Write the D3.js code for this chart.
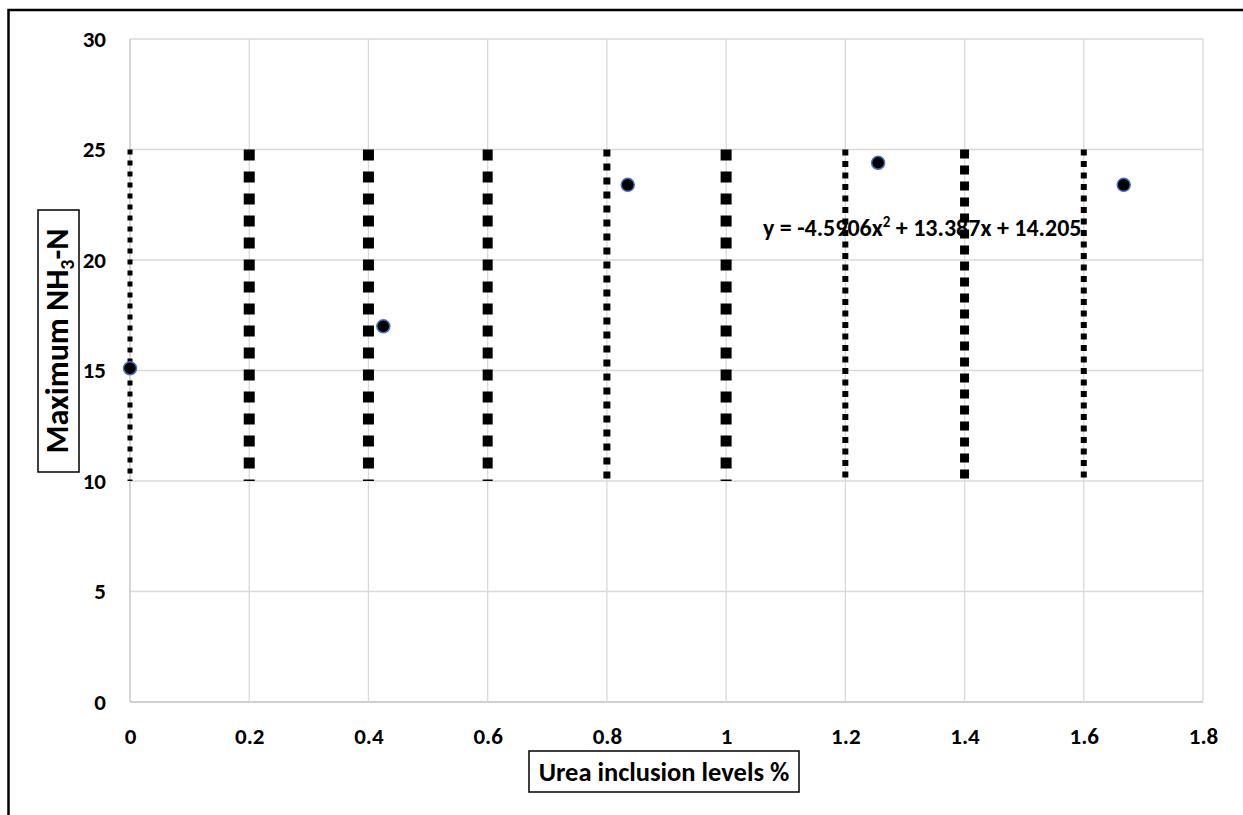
<!DOCTYPE html>
<html>
<head>
<meta charset="utf-8">
<script src="https://cdn.jsdelivr.net/npm/d3@7"></script>
<style>
  body { margin: 0; background: #fff; }
  svg { display: block; }
  text { font-family: Carlito, Calibri, Lato, "Open Sans", sans-serif; font-weight: bold; fill: #000; }
</style>
</head>
<body>
<div id="vis1"></div>
<script>
// chart data
const xTicks = [0, 0.2, 0.4, 0.6, 0.8, 1, 1.2, 1.4, 1.6, 1.8];
const yTicks = [0, 5, 10, 15, 20, 25, 30];
const urea = [0, 0.425, 0.835, 1.255, 1.667];
const nh3 = [15.1, 17.0, 23.4, 24.4, 23.4];
const barLevels = [0, 0.2, 0.4, 0.6, 0.8, 1, 1.2, 1.4, 1.6];
const barLow = 10;
const barHigh = 25;
const equation = ["y = -4.5906x", "2", " + 13.387x + 14.205"];

// dotted line look, one per level
const barStyles = [
  {w: 5, dash: "5 6"},
  {w: 11, dash: "11 11"},
  {w: 11, dash: "11 11"},
  {w: 10, dash: "11 11"},
  {w: 7, dash: "7 7"},
  {w: 11, dash: "11 11"},
  {w: 6, dash: "6 5.5"},
  {w: 9, dash: "9 7"},
  {w: 6, dash: "6 5.5"}
];

const FRAME_WIDTH = 1243;
const FRAME_HEIGHT = 815;
const MARGINS = {left: 130, right: 40, top: 39, bottom: 113};

const svg = d3.select("#vis1")
  .append("svg")
    .attr("width", FRAME_WIDTH)
    .attr("height", FRAME_HEIGHT);

// outer frame
svg.append("rect")
  .attr("x", 8.5).attr("y", 10)
  .attr("width", 1300).attr("height", 900)
  .attr("fill", "none")
  .attr("stroke", "#000")
  .attr("stroke-width", 2.5);

const x = d3.scaleLinear()
  .domain([0, 1.8])
  .range([MARGINS.left, FRAME_WIDTH - MARGINS.right]);

const y = d3.scaleLinear()
  .domain([0, 30])
  .range([FRAME_HEIGHT - MARGINS.bottom, MARGINS.top]);

// gridlines
svg.append("g")
  .selectAll("line.hgrid")
  .data(yTicks)
  .enter()
  .append("line")
    .attr("x1", x(0)).attr("x2", x(1.8))
    .attr("y1", d => y(d)).attr("y2", d => y(d))
    .attr("stroke", d => d === 0 ? "#bfbfbf" : "#d9d9d9")
    .attr("stroke-width", 1.3);

svg.append("g")
  .selectAll("line.vgrid")
  .data(xTicks)
  .enter()
  .append("line")
    .attr("x1", d => x(d)).attr("x2", d => x(d))
    .attr("y1", y(0)).attr("y2", y(30))
    .attr("stroke", d => d === 0 ? "#bfbfbf" : "#d9d9d9")
    .attr("stroke-width", 1.3);

// axes (labels only, lines come from grid)
const yAxis = svg.append("g")
  .attr("transform", `translate(${x(0)},0)`)
  .call(d3.axisLeft(y).tickValues(yTicks).tickSize(0).tickPadding(24));
yAxis.select(".domain").remove();
yAxis.selectAll("text").style("font-size", "23px").attr("font-family", null);

const xAxis = svg.append("g")
  .attr("transform", `translate(0,${y(0)})`)
  .call(d3.axisBottom(x).tickValues(xTicks).tickSize(0).tickPadding(26)
    .tickFormat(d => d3.format("")(+d.toFixed(1))));
xAxis.select(".domain").remove();
xAxis.selectAll("text").style("font-size", "23px").attr("font-family", null);

// equation (under the dotted lines)
const eq = svg.append("text")
  .attr("x", 763).attr("y", 236)
  .style("font-size", "24px");
eq.append("tspan").text(equation[0]);
eq.append("tspan").attr("dy", -9).style("font-size", "15px").text(equation[1]);
eq.append("tspan").attr("dy", 9).text(equation[2]);

// dotted lines
svg.append("g")
  .selectAll("line.bar")
  .data(barLevels)
  .enter()
  .append("line")
    .attr("x1", d => x(d)).attr("x2", d => x(d))
    .attr("y1", y(barHigh)).attr("y2", y(barLow))
    .attr("stroke", "#000")
    .attr("stroke-width", (d, i) => barStyles[i].w)
    .attr("stroke-dasharray", (d, i) => barStyles[i].dash);

// points
svg.append("g")
  .selectAll("circle")
  .data(urea)
  .enter()
  .append("circle")
    .attr("cx", d => x(d))
    .attr("cy", (d, i) => y(nh3[i]))
    .attr("r", 6.5)
    .attr("fill", "#000")
    .attr("stroke", "#4472c4")
    .attr("stroke-width", 1.5);

// y title box
const yt = svg.append("g").attr("transform", "translate(58,341) rotate(-90)");
yt.append("rect")
  .attr("x", -131).attr("y", -20)
  .attr("width", 262).attr("height", 41)
  .attr("fill", "#fff").attr("stroke", "#000").attr("stroke-width", 1.5);
const ytText = yt.append("text")
  .attr("y", 10)
  .style("font-size", "32px");
ytText.append("tspan").text("Maximum NH");
ytText.append("tspan").attr("dy", 6).style("font-size", "20px").text("3");
ytText.append("tspan").attr("dy", -6).text("-N");
const ytLen = ytText.node().getComputedTextLength();
ytText.attr("x", -ytLen / 2);

// x title box
svg.append("rect")
  .attr("x", 529).attr("y", 751)
  .attr("width", 270).attr("height", 41)
  .attr("fill", "#fff").attr("stroke", "#000").attr("stroke-width", 1.5);
svg.append("text")
  .attr("x", 664).attr("y", 781)
  .attr("text-anchor", "middle")
  .style("font-size", "26.5px")
  .text("Urea inclusion levels %");
</script>
</body>
</html>
